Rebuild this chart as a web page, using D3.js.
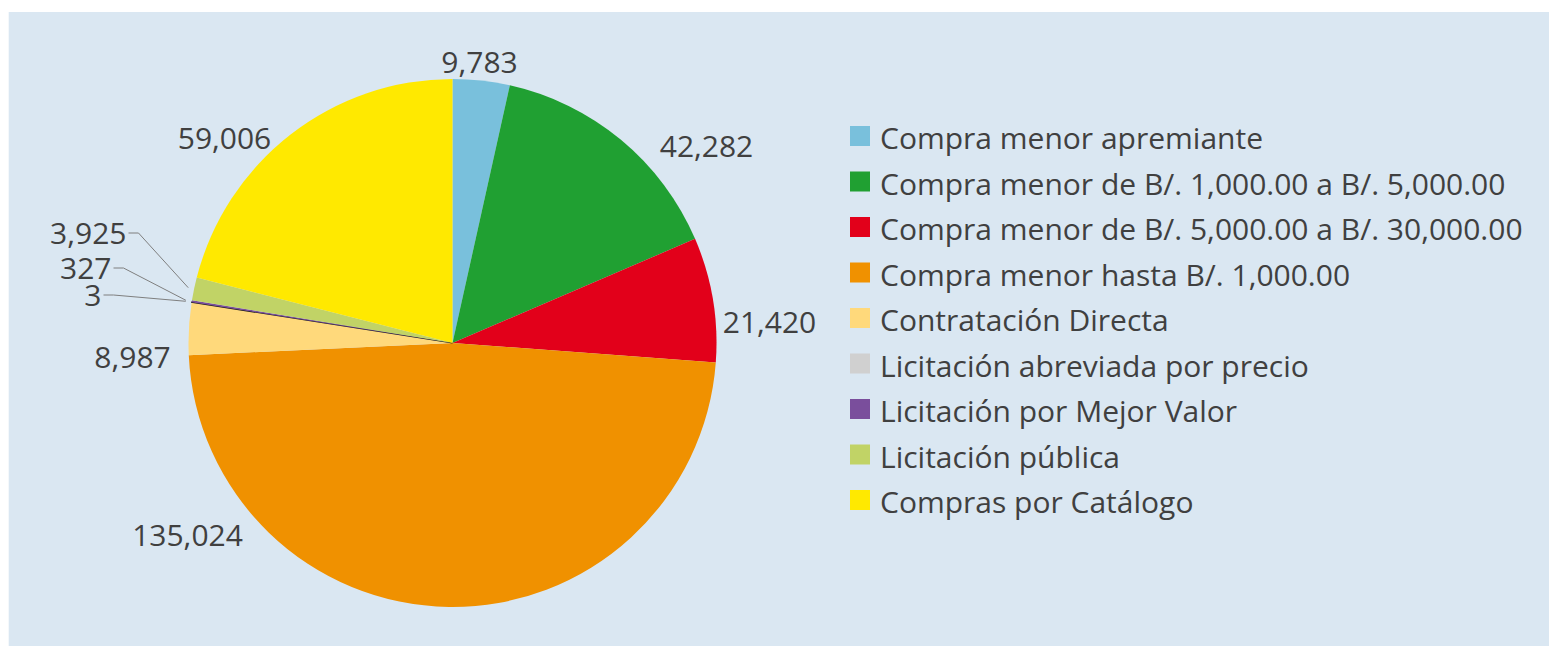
<!DOCTYPE html>
<html>
<head>
<meta charset="utf-8" />
<script src="https://d3js.org/d3.v7.min.js"></script>
<style>
    body { margin: 0; background: #ffffff; }
    text { font-family: "Open Sans", Lato, sans-serif; fill: #404040; }
</style>
</head>
<body>
<div id="visu"></div>
<script>

    // Datos del gráfico
    const categorias = [
        "Compra menor apremiante",
        "Compra menor de B/. 1,000.00 a B/. 5,000.00",
        "Compra menor de B/. 5,000.00 a B/. 30,000.00",
        "Compra menor hasta B/. 1,000.00",
        "Contratación Directa",
        "Licitación abreviada por precio",
        "Licitación por Mejor Valor",
        "Licitación pública",
        "Compras por Catálogo"
    ];
    const valores = [9783, 42282, 21420, 135024, 8987, 3, 327, 3925, 59006];
    const colores = ["#79C0DC", "#20A032", "#E2001A", "#F09100", "#FFD97B", "#D0D0D0", "#7A4E9C", "#C1D366", "#FFE900"];

    // Dimensiones
    const ancho = 1549;
    const alto = 646;
    const centro = {x: 452.5, y: 343};
    const radio = 264;

    // Posición de cada etiqueta respecto al centro del pastel (dx, dy, anclaje)
    const posEtiquetas = [
        [27, -281, "middle"],
        [254, -197, "middle"],
        [317, -21, "middle"],
        [-265, 192, "middle"],
        [-320, 14, "middle"],
        [-351, -48, "end"],
        [-341, -75, "end"],
        [-326, -110, "end"],
        [-228, -205, "middle"]
    ];
    // Etiquetas con línea guía
    const conLinea = [5, 6, 7];

    const svg = d3.select('#visu')
        .append('svg')
        .attr('width', ancho)
        .attr('height', alto);

    // Fondo
    svg.append('rect')
        .attr('x', 8.7)
        .attr('y', 12)
        .attr('width', ancho - 8.7)
        .attr('height', alto - 12)
        .attr('fill', '#DAE7F2');

    const pastel = d3.pie()
        .value(d => d)
        .sort(null);

    const arco = d3.arc()
        .innerRadius(0)
        .outerRadius(radio);

    const datosPastel = pastel(valores);

    const g = svg.append('g')
        .attr('transform', `translate(${centro.x}, ${centro.y})`);

    g.selectAll('path')
        .data(datosPastel)
        .enter()
        .append('path')
        .attr('d', arco)
        .attr('fill', (d, i) => colores[i])
        // el sector de 3 se ve como una línea oscura
        .attr('stroke', (d, i) => i === 5 ? '#1A1A1A' : 'none')
        .attr('stroke-width', 1.2);

    const formato = d3.format(",");

    // Líneas guía para los sectores pequeños
    conLinea.forEach(i => {
        const d = datosPastel[i];
        const medio = (d.startAngle + d.endAngle) / 2;
        const p0 = d3.pointRadial(medio, radio + 6);
        const [dx, dy] = posEtiquetas[i];
        const codo = [dx + 12, dy];
        const fin = [dx + 2, dy];
        g.append('polyline')
            .attr('points', [p0, codo, fin].map(p => p.join(',')).join(' '))
            .attr('fill', 'none')
            .attr('stroke', '#7F7F7F')
            .attr('stroke-width', 1);
    });

    // Etiquetas de valores
    g.selectAll('.etiqueta')
        .data(datosPastel)
        .enter()
        .append('text')
        .attr('class', 'etiqueta')
        .attr('x', (d, i) => posEtiquetas[i][0])
        .attr('y', (d, i) => posEtiquetas[i][1] + 10.5)
        .attr('text-anchor', (d, i) => posEtiquetas[i][2])
        .attr('font-size', 30)
        .text(d => formato(d.value));

    // Leyenda
    const leyenda = svg.append('g')
        .attr('transform', 'translate(850, 126)');

    const filas = leyenda.selectAll('.fila')
        .data(categorias)
        .enter()
        .append('g')
        .attr('class', 'fila')
        .attr('transform', (d, i) => `translate(0, ${i * 45.5})`);

    filas.append('rect')
        .attr('width', 20)
        .attr('height', 20)
        .attr('fill', (d, i) => colores[i]);

    filas.append('text')
        .attr('x', 30)
        .attr('y', 23)
        .attr('font-size', 30)
        .text(d => d);

</script>
</body>
</html>
